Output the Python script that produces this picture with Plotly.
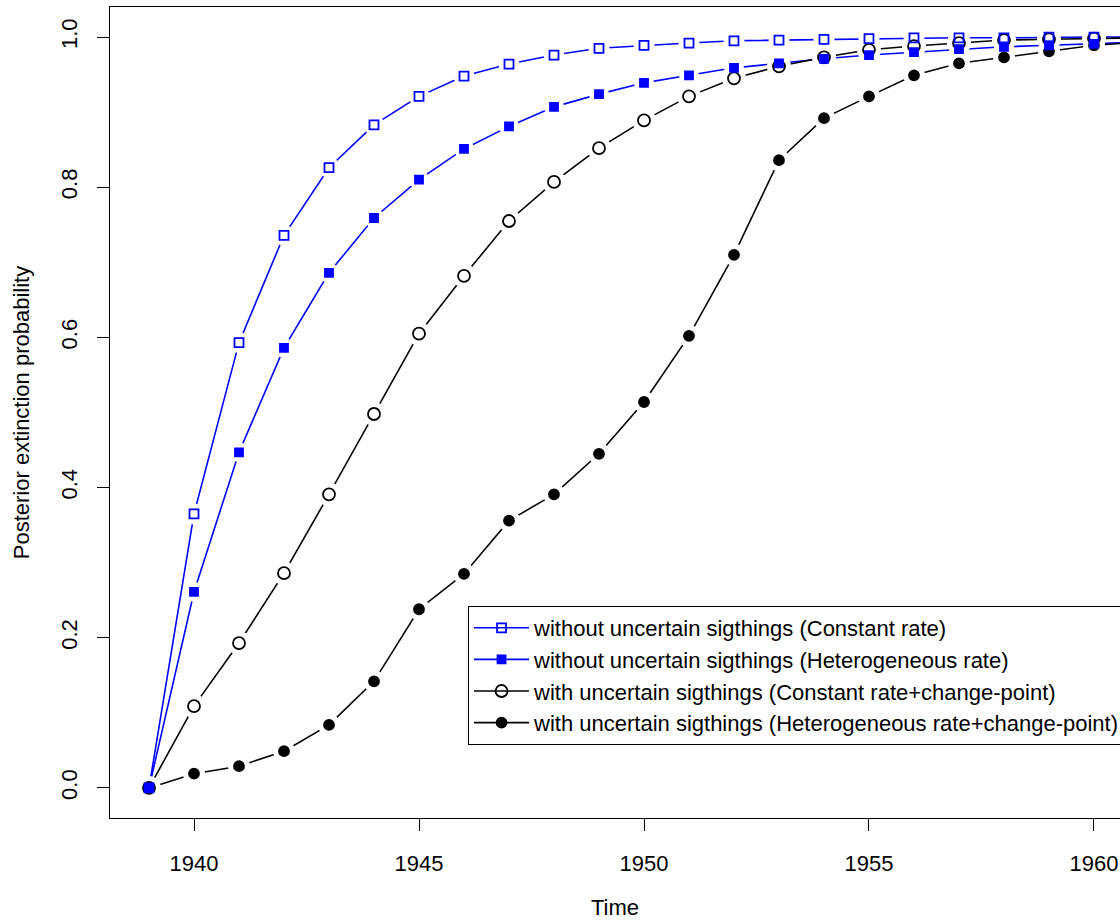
import plotly.graph_objects as go

years = list(range(1939, 1962))

const_rate = [0.0, 0.365, 0.593, 0.736, 0.826, 0.883, 0.921, 0.948, 0.964, 0.976,
              0.985, 0.989, 0.992, 0.995, 0.996, 0.997, 0.998, 0.999, 0.999, 0.999,
              1.0, 1.0, 1.0]
hetero_rate = [0.0, 0.261, 0.447, 0.586, 0.686, 0.759, 0.810, 0.851, 0.881, 0.907,
               0.924, 0.939, 0.949, 0.959, 0.965, 0.971, 0.976, 0.980, 0.984, 0.987,
               0.989, 0.991, 0.993]
const_cp = [0.0, 0.109, 0.193, 0.286, 0.391, 0.498, 0.605, 0.682, 0.755, 0.807,
            0.852, 0.889, 0.921, 0.945, 0.961, 0.973, 0.983, 0.988, 0.992, 0.996,
            0.997, 0.998, 0.999]
hetero_cp = [0.0, 0.019, 0.029, 0.049, 0.084, 0.142, 0.238, 0.285, 0.356, 0.391,
             0.445, 0.514, 0.602, 0.710, 0.836, 0.892, 0.921, 0.949, 0.965, 0.973,
             0.981, 0.989, 0.993]

names = ["without uncertain sigthings (Constant rate)",
         "without uncertain sigthings (Heterogeneous rate)",
         "with uncertain sigthings (Constant rate+change-point)",
         "with uncertain sigthings (Heterogeneous rate+change-point)"]

x_ticks = [1940, 1945, 1950, 1955, 1960]
y_ticks = [0.0, 0.2, 0.4, 0.6, 0.8, 1.0]
y_tick_labels = ["0.0", "0.2", "0.4", "0.6", "0.8", "1.0"]

BLUE = "#0000FF"
BLACK = "#000000"
FONT = "Liberation Sans, Arial, Helvetica, sans-serif"
FS = 22
LW = 1.6

series = [
    dict(y=const_rate, color=BLUE, symbol="square-open", size=9),
    dict(y=hetero_rate, color=BLUE, symbol="square", size=8),
    dict(y=const_cp, color=BLACK, symbol="circle-open", size=12),
    dict(y=hetero_cp, color=BLACK, symbol="circle", size=10),
]

fig = go.Figure()

# Lines (also used as legend entries)
for s, nm in zip(series, names):
    fig.add_trace(go.Scatter(
        x=years, y=s["y"], name=nm, mode="lines+markers",
        line=dict(color=s["color"], width=LW),
        marker=dict(symbol=s["symbol"], size=s["size"], color=s["color"],
                    line=dict(color=s["color"], width=1.8)),
        showlegend=True, hoverinfo="skip"))

# White knockouts to create gaps around points (type="b" look)
for s in series:
    fig.add_trace(go.Scatter(
        x=years, y=s["y"], mode="markers", showlegend=False, hoverinfo="skip",
        marker=dict(symbol="circle", size=s["size"] + 12, color="white",
                    line=dict(width=0))))

# Markers on top
for i in [2, 3, 0, 1]:
    s = series[i]
    fig.add_trace(go.Scatter(
        x=years, y=s["y"], mode="markers", showlegend=False, hoverinfo="skip",
        marker=dict(symbol=s["symbol"], size=s["size"], color=s["color"],
                    line=dict(color=s["color"], width=1.8))))

fig.update_layout(
    width=1120, height=920,
    margin=dict(l=110, r=0, t=7, b=102, autoexpand=False),
    paper_bgcolor="white", plot_bgcolor="white",
    font=dict(family=FONT, size=FS, color="black"),
    showlegend=True,
    legend=dict(x=0.3545, y=0.2614, xanchor="left", yanchor="top",
                xref="paper", yref="paper",
                bgcolor="white", bordercolor="black", borderwidth=1,
                font=dict(family=FONT, size=FS, color="black"),
                itemwidth=55, tracegroupgap=0),
)

fig.update_xaxes(
    range=[1938.1333, 1960.578], showgrid=False, zeroline=False,
    showline=True, mirror=True, linecolor="black", linewidth=1.3,
    ticks="outside", ticklen=12, tickwidth=1.3, tickcolor="black",
    tickvals=x_ticks, ticktext=[str(v) for v in x_ticks],
    ticklabelstandoff=13,
    title=dict(text="Time", standoff=27, font=dict(size=FS)),
)
fig.update_yaxes(
    range=[-0.04, 1.04], showgrid=False, zeroline=False,
    showline=True, mirror=False, linecolor="black", linewidth=1.3,
    ticks="outside", ticklen=12, tickwidth=1.3, tickcolor="black",
    tickvals=y_ticks, ticktext=y_tick_labels, tickangle=-90,
    ticklabelstandoff=11,
    title=dict(text="Posterior extinction probability", standoff=21, font=dict(size=FS)),
)

fig.write_html("out.html")
